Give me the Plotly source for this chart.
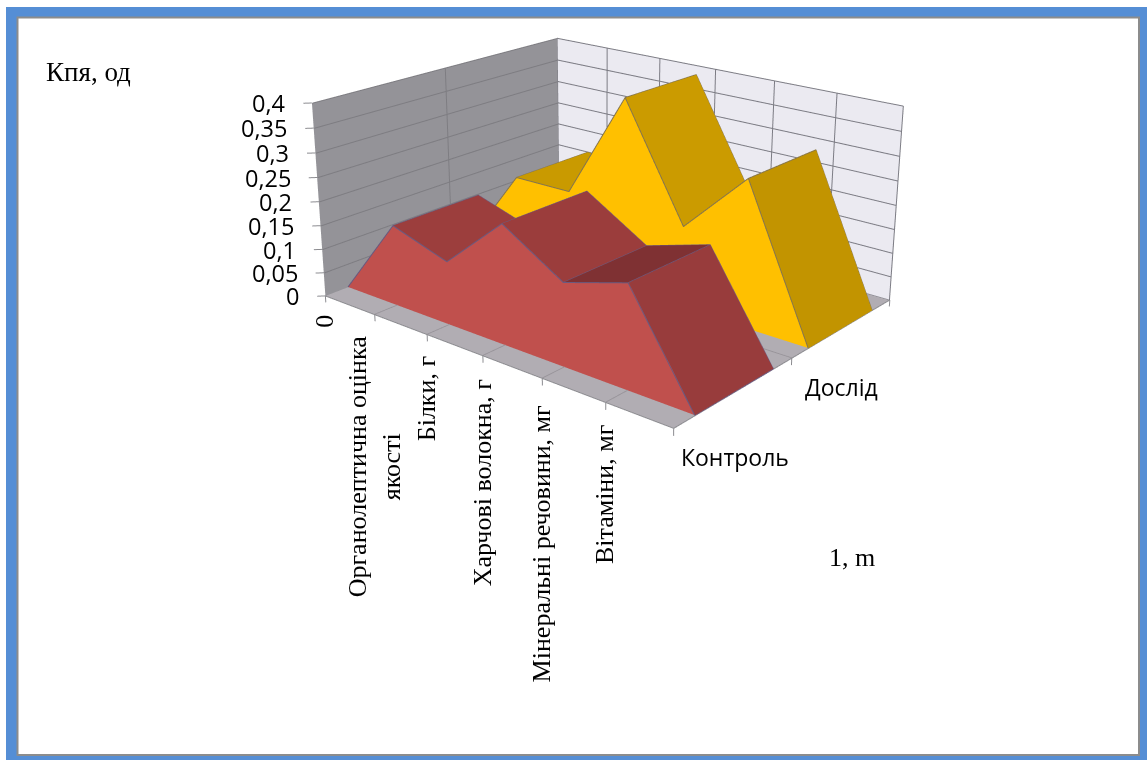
import plotly.graph_objects as go

# ---- data ----
categories = ["0", "Органолептична оцінка<br>якості", "Білки, г", "Харчові волокна, г",
              "Мінеральні речовини, мг", "Вітаміни, мг", ""]
control = [0, 0.168, 0.130, 0.241, 0.165, 0.203, 0]
experiment = [0, 0.177, 0.178, 0.402, 0.171, 0.300, 0]
series_names = ["Контроль", "Дослід"]
z_ticks = [0, 0.05, 0.1, 0.15, 0.2, 0.25, 0.3, 0.35, 0.4]
z_labels = ["0", "0,05", "0,1", "0,15", "0,2", "0,25", "0,3", "0,35", "0,4"]

# ---- geometry of the page and the camera ----
FIG_W, FIG_H, TOP_OFFSET = 1207, 1249, 394
X = list(range(len(categories)))
X_MAX = X[-1]
Z_MAX = z_ticks[-1]
DEPTH = [(0.085, 0.416), (0.580, 0.903)]
PAD_X, PAD_Y, PAD_Z = 0.3, 0.1, 0.04
CAT_YSHIFT = [-10, -12, -13, -15, -18, -13, 0]

def px(x):
    return x / FIG_W

def py(y):
    return 1 - (y + TOP_OFFSET) / FIG_H

def quads_mesh(quads, colors, name):
    xs, ys, zs, ii, jj, kk, fc = [], [], [], [], [], [], []
    for q, c in zip(quads, colors):
        n = len(xs)
        for (a, b, d) in q:
            xs.append(a); ys.append(b); zs.append(d)
        ii += [n, n]; jj += [n + 1, n + 2]; kk += [n + 2, n + 3]
        fc += [c, c]
    return go.Mesh3d(x=xs, y=ys, z=zs, i=ii, j=jj, k=kk, facecolor=fc, flatshading=True,
                     lighting=dict(ambient=1, diffuse=0, specular=0, fresnel=0, roughness=1),
                     hoverinfo="skip", showscale=False, name=name)

def segs(segments, color, width=1.5):
    xs, ys, zs = [], [], []
    for path in segments:
        for (a, b, d) in path:
            xs.append(a); ys.append(b); zs.append(d)
        xs.append(None); ys.append(None); zs.append(None)
    return go.Scatter3d(x=xs, y=ys, z=zs, mode="lines", line=dict(color=color, width=width),
                        hoverinfo="skip", showlegend=False)

fig = go.Figure()

# walls and floor
fig.add_trace(quads_mesh([[(0, 0, 0), (0, 1, 0), (0, 1, Z_MAX), (0, 0, Z_MAX)]], ["#949398"], "left wall"))
fig.add_trace(quads_mesh([[(0, 1, 0), (X_MAX, 1, 0), (X_MAX, 1, Z_MAX), (0, 1, Z_MAX)]], ["#EBEAF1"], "back wall"))
fig.add_trace(quads_mesh([[(0, 0, 0), (X_MAX, 0, 0), (X_MAX, 1, 0), (0, 1, 0)]], ["#B1ADB3"], "floor"))

# grid
eps_x, eps_y, eps_z = 0.012, 0.002, 0.0006
left_grid = [[(eps_x, 0, z), (eps_x, 1, z)] for z in z_ticks[1:]]
left_grid.append([(eps_x, 0.5, 0), (eps_x, 0.5, Z_MAX)])
fig.add_trace(segs(left_grid, "#7E7D82", 2))
back_grid = [[(0, 1 - eps_y, z), (X_MAX, 1 - eps_y, z)] for z in z_ticks]
back_grid += [[(i, 1 - eps_y, 0), (i, 1 - eps_y, Z_MAX)] for i in X]
fig.add_trace(segs(back_grid, "#7C7C84", 2))
floor_grid = [[(i, 0, eps_z), (i, 1, eps_z)] for i in X[1:-1]]
floor_grid.append([(0, 0.5, eps_z), (X_MAX, 0.5, eps_z)])
fig.add_trace(segs(floor_grid, "#98949A", 2))
edge = [[(0, 0, 0), (X_MAX, 0, 0)], [(X_MAX, 0, 0), (X_MAX, 1, 0)], [(0, 0, 0), (0, 1, 0)]]
fig.add_trace(segs(edge, "#8C8C90", 2))

# tick marks
tick_dz = 0.014
tick_dx, tick_dy = -0.077, -0.0162
ticks = [[(i, 0, 0), (i, 0, -tick_dz)] for i in X]
ticks += [[(X_MAX, y, 0), (X_MAX, y, -tick_dz)] for y in (0, 0.5, 1)]
ticks += [[(0, 0, z), (tick_dx, tick_dy, z)] for z in z_ticks]
fig.add_trace(segs(ticks, "#8C8C90", 2))

# series
styles = [
    dict(front="#C0504D", tops=["#9B3D3C", "#9C3E3D", "#9C3E3D", "#9B3D3C", "#7F3133", "#983C3C"],
         line="#6A5A80"),
    dict(front="#FFC000", tops=["#C79800", "#C99A00", "#B98E00", "#CB9B00", "#B98E00", "#C29400"],
         line="#85754F"),
]
for vals, (y0, y1), st, name in zip([control, experiment], DEPTH, styles, series_names):
    n = len(vals)
    front = [[(X[i], y0, 0), (X[i + 1], y0, 0), (X[i + 1], y0, vals[i + 1]), (X[i], y0, vals[i])] for i in range(n - 1)]
    back = [[(X[i], y1, 0), (X[i + 1], y1, 0), (X[i + 1], y1, vals[i + 1]), (X[i], y1, vals[i])] for i in range(n - 1)]
    tops = [[(X[i], y0, vals[i]), (X[i + 1], y0, vals[i + 1]), (X[i + 1], y1, vals[i + 1]), (X[i], y1, vals[i])] for i in range(n - 1)]
    fig.add_trace(quads_mesh(front + back + tops,
                             [st["front"]] * (2 * (n - 1)) + st["tops"], name))
    yf = y0 - eps_y
    lines = [[(X[i], yf, vals[i]) for i in range(n)],
             [(X[i], y1, vals[i]) for i in range(n)]]
    lines += [[(X[i], yf, vals[i]), (X[i], y1, vals[i])] for i in range(n)]
    fig.add_trace(segs(lines, st["line"], 2))

# texts placed through the scene axes
SANS = "Open Sans"
SERIF = "Liberation Serif"
ann = []
for z, t in zip(z_ticks, z_labels):
    ann.append(dict(x=tick_dx, y=tick_dy, z=z, text=t, showarrow=False, xanchor="right",
                    yanchor="middle", xshift=-16, yshift=0, font=dict(family=SANS, size=23.5, color="#000")))
for i, t, ys in zip(X, categories, CAT_YSHIFT):
    if t:
        ann.append(dict(x=i, y=0, z=-tick_dz, text=t, showarrow=False, textangle=-90, xanchor="center",
                        yanchor="top", yshift=ys, xshift=-1, font=dict(family=SERIF, size=26, color="#000"), align="center"))
for (y, name, dx, dy) in [(0.25, series_names[0], -56.5, -65), (0.75, series_names[1], -39.5, -59)]:
    ann.append(dict(x=X_MAX, y=y, z=0, text=name, showarrow=False, xanchor="left", yanchor="middle",
                    xshift=dx, yshift=dy, font=dict(family=SANS, size=23, color="#000")))

frame_l, frame_t, frame_r, frame_b = 6, 7, 1150, 764
fig.update_layout(
    width=FIG_W, height=FIG_H, margin=dict(l=0, r=0, t=0, b=0, pad=0), paper_bgcolor="white",
    showlegend=False, hovermode=False,
    scene=dict(
        domain=dict(x=[0, 1], y=[0, 1]),
        xaxis=dict(visible=False, range=[-PAD_X, X_MAX + PAD_X]),
        yaxis=dict(visible=False, range=[-PAD_Y, 1 + PAD_Y]),
        zaxis=dict(visible=False, range=[-PAD_Z, Z_MAX + PAD_Z]),
        aspectmode="manual",
        aspectratio=dict(x=(X_MAX + 2 * PAD_X) / X_MAX, y=0.8057 * (1 + 2 * PAD_Y), z=0.4553 * (Z_MAX + 2 * PAD_Z) / Z_MAX),
        camera=dict(eye=dict(x=2.0233, y=-2.4298, z=1.1101), center=dict(x=0.0080, y=-0.0208, z=-0.0562),
                    up=dict(x=0, y=0, z=1), projection=dict(type="perspective")),
        dragmode=False,
        annotations=ann,
        bgcolor="rgba(0,0,0,0)",
    ),
    shapes=[
        dict(type="path", xref="paper", yref="paper", fillcolor="#558ED5", line=dict(width=0),
             path=(f"M{px(frame_l)},{py(frame_t)} L{px(frame_r)},{py(frame_t)} L{px(frame_r)},{py(frame_b)} "
                   f"L{px(frame_l)},{py(frame_b)} Z "
                   f"M{px(17)},{py(17)} L{px(17)},{py(755)} L{px(1139)},{py(755)} L{px(1139)},{py(17)} Z")),
        dict(type="rect", xref="paper", yref="paper", x0=px(17.5), x1=px(1139), y0=py(17.5), y1=py(755),
             line=dict(color="#8C8C8C", width=2)),
    ],
    annotations=[
        dict(x=px(44), y=py(72), xref="paper", yref="paper", text="Кпя, од", showarrow=False, xanchor="left",
             yanchor="middle", font=dict(family=SERIF, size=27, color="#000")),
        dict(x=px(827), y=py(557), xref="paper", yref="paper", text="1, m", showarrow=False, xanchor="left",
             yanchor="middle", font=dict(family=SERIF, size=26, color="#000")),
    ],
)

post = ("document.documentElement.style.overflow='hidden';document.body.style.overflow='hidden';"
        "document.body.style.margin='0';"
        f"document.getElementsByClassName('plotly-graph-div')[0].style.marginTop='-{TOP_OFFSET}px';")
fig.write_html("out.html", config=dict(displayModeBar=False), post_script=post)
